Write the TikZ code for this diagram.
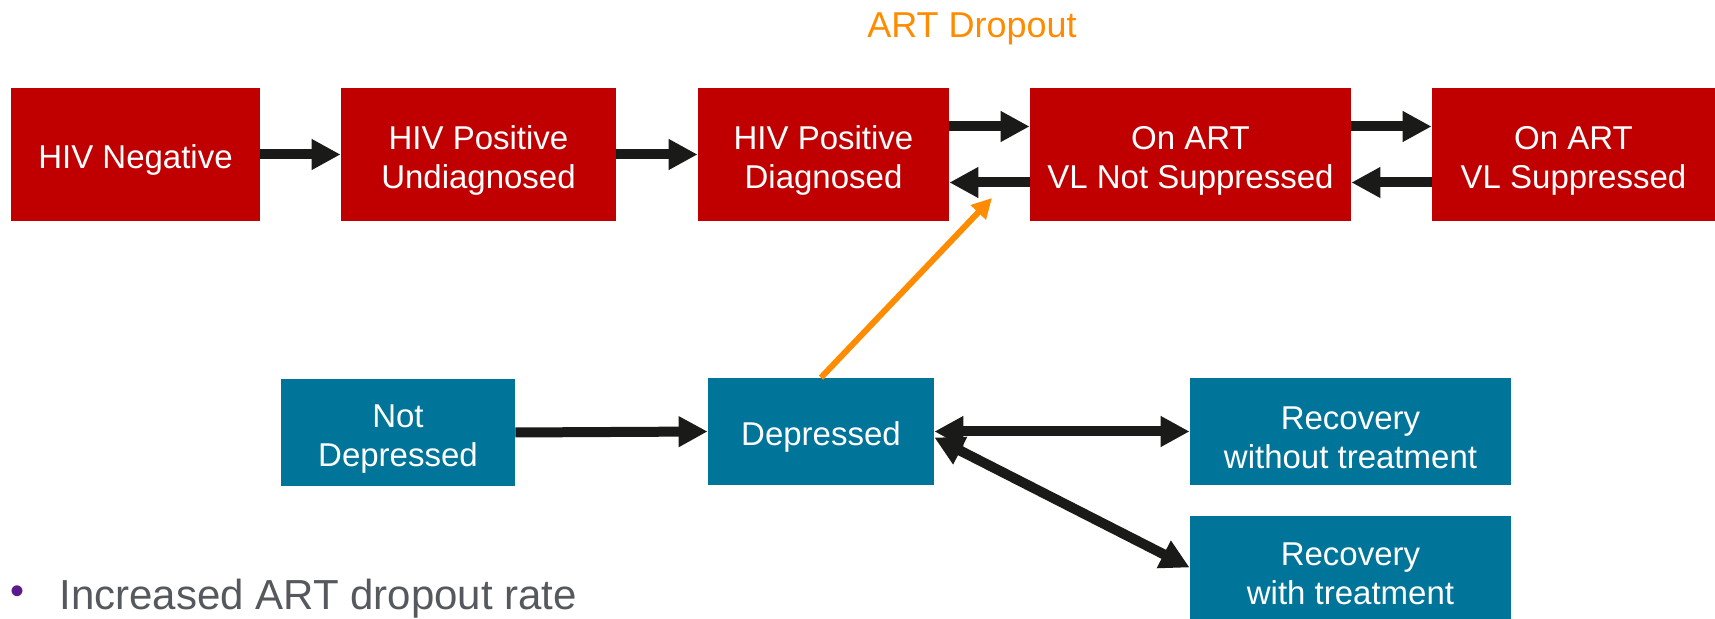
\documentclass[tikz,border=0pt]{standalone}
\usepackage{fontspec}
\setmainfont{Liberation Sans}
\usetikzlibrary{arrows.meta}
\definecolor{hivred}{RGB}{192,0,0}
\definecolor{deptea}{RGB}{0,116,153}
\definecolor{arrowblk}{RGB}{26,26,24}
\definecolor{artorange}{RGB}{255,140,0}
\definecolor{bulletgray}{RGB}{85,88,92}
\definecolor{bulletpurple}{RGB}{92,26,140}
\begin{document}
\begin{tikzpicture}[x=0.5pt,y=-0.5pt,
 box/.style={rectangle, inner sep=0pt, text=white, align=center, font=\fontsize{16.5}{19.5}\selectfont,
   execute at begin node={\rule{0pt}{17pt}}},
 twoline/.style={execute at begin node={\rule{0pt}{37pt}}},
 redbox/.style={box, fill=hivred, minimum height=66.5pt},
 tealbox/.style={box, fill=deptea, minimum height=53.5pt},
 flow/.style={draw=arrowblk, line width=5pt, -{Triangle[length=14.5pt,width=14.5pt]}},
 twoway/.style={draw=arrowblk, line width=5pt, {Triangle[length=14.5pt,width=14.5pt]}-{Triangle[length=14.5pt,width=14.5pt]}},
 dropout/.style={draw=artorange, line width=3pt, -{Triangle[length=10pt,width=10pt]}}]
\useasboundingbox (0,0) rectangle (1715,619);

\node[redbox, minimum width=124.5pt] (neg) at (135.5,154.5) {HIV Negative};
\node[redbox, twoline, minimum width=137.5pt] (undiag) at (478.5,154.5) {HIV Positive\\Undiagnosed};
\node[redbox, twoline, minimum width=125.5pt] (diag) at (823.5,154.5) {HIV Positive\\Diagnosed};
\node[redbox, twoline, minimum width=160.5pt] (vlns) at (1190.5,154.5) {On ART\\VL Not Suppressed};
\node[redbox, twoline, minimum width=141.5pt] (vls) at (1573.5,154.5) {On ART\\VL Suppressed};

\node[tealbox, twoline, minimum width=117pt] (notdep) at (398,432.5) {Not\\Depressed};
\node[tealbox, minimum width=113pt] (dep) at (821,431.5) {Depressed};
\node[tealbox, twoline, minimum width=160.5pt] (recwo) at (1350.5,431.5) {Recovery\\without treatment};
\node[tealbox, twoline, minimum width=160.5pt, minimum height=51.5pt] (recw) at (1350.5,567.5) {Recovery\\with treatment};

\draw[flow] (neg.east) -- (undiag.west);
\draw[flow] (undiag.east) -- (diag.west);
\draw[flow] ([yshift=14pt]diag.east) -- ([yshift=14pt]vlns.west);
\draw[flow] ([yshift=-14pt]vlns.west) -- ([yshift=-14pt]diag.east);
\draw[flow] ([yshift=14pt]vlns.east) -- ([yshift=14pt]vls.west);
\draw[flow] ([yshift=-14pt]vls.west) -- ([yshift=-14pt]vlns.east);

\draw[flow] (notdep.east) -- (dep.west);
\draw[twoway] (dep.east) -- (recwo.west);
\draw[twoway] ([yshift=-3pt]dep.east) -- (recw.west);

\coordinate (droptip) at (992,198);
\draw[dropout] (dep.north) -- (droptip);
\node[text=artorange, font=\fontsize{18}{18}\selectfont, anchor=base] (droplabel) at (972,38) {ART Dropout};

\node[text=bulletpurple, font=\fontsize{20}{20}\selectfont, inner sep=0pt] (bullet) at (18,595) {•};
\node[text=bulletgray, font=\fontsize{21}{21}\selectfont, anchor=base west, inner sep=0pt] (bullettext) at (59,610) {Increased ART dropout rate};
\end{tikzpicture}
\end{document}
